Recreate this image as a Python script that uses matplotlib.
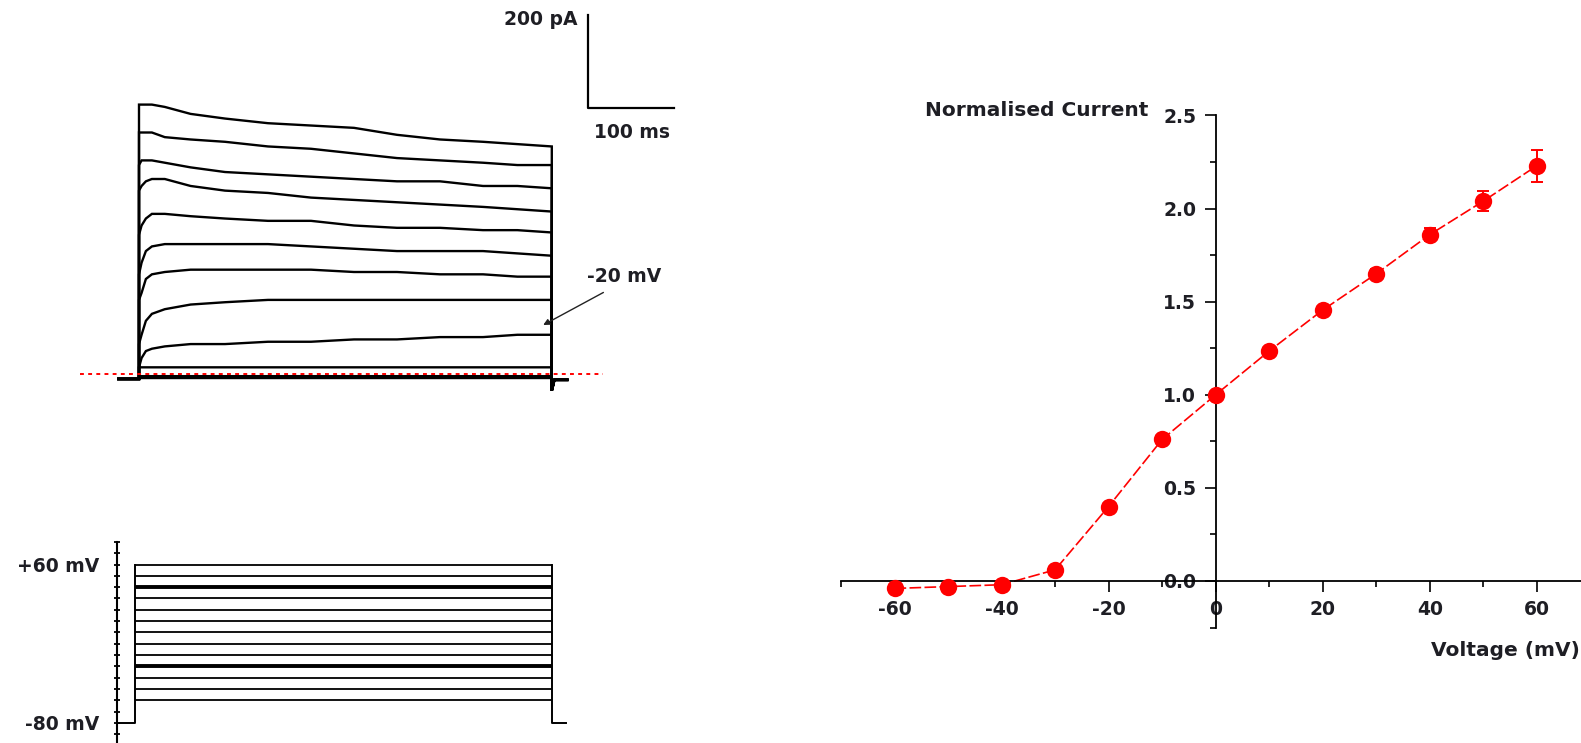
import matplotlib.pyplot as plt
from matplotlib.ticker import FixedLocator, MultipleLocator, FixedFormatter

plt.rcParams['font.family'] = ['DejaVu Sans']
plt.rcParams['axes.unicode_minus'] = False
TXT = '#1e1e24'

# whole-cell current traces (pA), one row per step potential (mV)
step_voltages = [60, 50, 40, 30, 20, 10, 0, -10, -20, -30, -40, -50, -60]
sample_times = [0, 3, 8, 15, 30, 60, 100, 150, 200, 250, 300, 350, 400, 440, 480]
step_currents = [
    [580, 580, 580, 580, 575, 560, 550, 540, 535, 530, 515, 505, 500, 495, 490],
    [520, 520, 520, 520, 510, 505, 500, 490, 485, 475, 465, 460, 455, 450, 450],
    [450, 460, 460, 460, 455, 445, 435, 430, 425, 420, 415, 415, 405, 405, 400],
    [395, 405, 415, 420, 420, 405, 395, 390, 380, 375, 370, 365, 360, 355, 350],
    [300, 320, 335, 345, 345, 340, 335, 330, 330, 320, 315, 315, 310, 310, 305],
    [215, 240, 265, 275, 280, 280, 280, 280, 275, 270, 265, 265, 265, 260, 255],
    [160, 175, 205, 215, 220, 225, 225, 225, 225, 220, 220, 215, 215, 210, 210],
    [65, 85, 115, 130, 140, 150, 155, 160, 160, 160, 160, 160, 160, 160, 160],
    [15, 35, 50, 55, 60, 65, 65, 70, 70, 75, 75, 80, 80, 85, 85],
    [15, 15, 15, 15, 15, 15, 15, 15, 15, 15, 15, 15, 15, 15, 15],
    [-4, -4, -4, -4, -4, -4, -4, -4, -4, -4, -4, -4, -4, -4, -4],
    [-6, -6, -6, -6, -6, -6, -6, -6, -6, -6, -6, -6, -6, -6, -6],
    [-8, -8, -8, -8, -8, -8, -8, -8, -8, -8, -8, -8, -8, -8, -8],
]
holding_current = -10
tail_current = -35
pulse_ms = 480
holding_mv = -80
doubled_steps = [40, -30]

# normalised I-V relation
iv_voltage = [-60, -50, -40, -30, -20, -10, 0, 10, 20, 30, 40, 50, 60]
iv_current = [-0.04, -0.03, -0.02, 0.06, 0.40, 0.76, 1.00, 1.235, 1.455, 1.65, 1.86, 2.04, 2.23]
iv_sem = [0.01, 0.01, 0.01, 0.015, 0.02, 0.02, 0.0, 0.02, 0.02, 0.025, 0.035, 0.055, 0.085]

W, H = 1581, 743


def box(left, top, right, bottom):
    return [left / W, 1 - bottom / H, (right - left) / W, (bottom - top) / H]


fig = plt.figure(figsize=(W / 100, H / 100), dpi=100)

# ---- current traces ----
ax_tr = fig.add_axes(box(70.2, 2.3, 689.4, 402.2))
ax_tr.set_xlim(-80, 640)
ax_tr.set_ylim(-60, 800)
ax_tr.axis('off')
for row in step_currents:
    t = [-24, 0] + sample_times + [pulse_ms, pulse_ms + 3, pulse_ms + 18]
    i = [holding_current, holding_current] + row + [tail_current, holding_current - 2, holding_current - 2]
    ax_tr.plot(t, i, color='black', lw=1.7, solid_joinstyle='miter')
ax_tr.plot([-69, 540], [0, 0], color='red', lw=1.4, ls=(0, (2, 2.2)), zorder=5)

# scale bars
ax_tr.plot([521.7, 521.7, 621.7], [772, 572, 572], color='black', lw=1.6, clip_on=False)
ax_tr.text(510, 764, '200 pA', ha='right', va='center', fontsize=13.5,
           fontweight='bold', color=TXT)
ax_tr.text(573, 519, '100 ms', ha='center', va='center', fontsize=13.5,
           fontweight='bold', color=TXT)
ax_tr.text(564, 210, '-20 mV', ha='center', va='center', fontsize=13.5,
           fontweight='bold', color=TXT)
ax_tr.annotate('', xy=(470, 106), xytext=(540, 176),
               arrowprops=dict(arrowstyle='-|>', lw=1.0, color='#222222',
                               mutation_scale=9, shrinkA=0, shrinkB=0))

# ---- voltage protocol ----
ax_vp = fig.add_axes(box(116.7, 541.9, 586.4, 745.6))
ax_vp.set_xlim(-21.1, 520)
ax_vp.set_ylim(-100, 80)
top_mv = max(step_voltages)
ax_vp.plot([-21.1, 0, 0], [holding_mv, holding_mv, top_mv], color='black', lw=1.4)
ax_vp.plot([pulse_ms, pulse_ms, pulse_ms + 16], [top_mv, holding_mv, holding_mv],
           color='black', lw=1.4)
for v in step_voltages:
    lw = 2.8 if v in doubled_steps else 1.3
    ax_vp.plot([0, pulse_ms], [v, v], color='black', lw=lw, solid_capstyle='butt')
for s in ('top', 'right', 'bottom'):
    ax_vp.spines[s].set_visible(False)
ax_vp.spines['left'].set_linewidth(1.5)
ax_vp.set_xticks([])
ax_vp.yaxis.set_major_locator(FixedLocator([-80, 60]))
ax_vp.yaxis.set_major_formatter(FixedFormatter(['-80 mV', '+60 mV']))
ax_vp.yaxis.set_minor_locator(MultipleLocator(10))
ax_vp.tick_params(axis='y', which='both', direction='inout', length=5, width=1.3)
ax_vp.tick_params(axis='y', which='major', pad=10, labelsize=13.5, labelcolor=TXT)
for lab in ax_vp.get_yticklabels():
    lab.set_fontweight('bold')

# ---- I-V curve ----
ax_iv = fig.add_axes(box(841.0, 115.5, 1643.8, 627.55))
ax_iv.set_xlim(-70, 80)
ax_iv.set_ylim(-0.25, 2.5)
ax_iv.plot(iv_voltage, iv_current, color='red', lw=1.2, ls=(0, (7, 2)), zorder=2)
ax_iv.errorbar(iv_voltage, iv_current, yerr=iv_sem, fmt='none', ecolor='red',
               elinewidth=1.4, capsize=4, capthick=1.4, zorder=3)
ax_iv.plot(iv_voltage, iv_current, 'o', color='red', ms=12.5, mec='none', zorder=4)

ax_iv.spines['left'].set_position(('data', 0))
ax_iv.spines['bottom'].set_position(('data', 0))
ax_iv.spines['top'].set_visible(False)
ax_iv.spines['right'].set_visible(False)
for s in ('left', 'bottom'):
    ax_iv.spines[s].set_linewidth(1.3)
ax_iv.set_xticks(range(-60, 61, 20))
ax_iv.xaxis.set_minor_locator(MultipleLocator(10))
ax_iv.set_yticks([0, 0.5, 1.0, 1.5, 2.0, 2.5])
ax_iv.set_yticklabels(['0.0', '0.5', '1.0', '1.5', '2.0', '2.5'])
ax_iv.yaxis.set_minor_locator(MultipleLocator(0.25))
ax_iv.tick_params(which='major', direction='out', length=8, width=1.2,
                  labelsize=13.5, labelcolor=TXT)
ax_iv.tick_params(which='minor', direction='out', length=4.3, width=1.2)
ax_iv.tick_params(axis='x', which='major', pad=5.5)
ax_iv.tick_params(axis='y', which='major', pad=6)
for lab in ax_iv.get_xticklabels() + ax_iv.get_yticklabels():
    lab.set_fontweight('bold')

fig.text(1148 / W, 1 - 110.7 / H, 'Normalised Current', ha='right', va='center',
         fontsize=14.5, fontweight='bold', color=TXT)
fig.text(1431 / W, 1 - 650 / H, 'Voltage (mV)', ha='left', va='center',
         fontsize=14.5, fontweight='bold', color=TXT)

fig.savefig('out.png', dpi=100)
